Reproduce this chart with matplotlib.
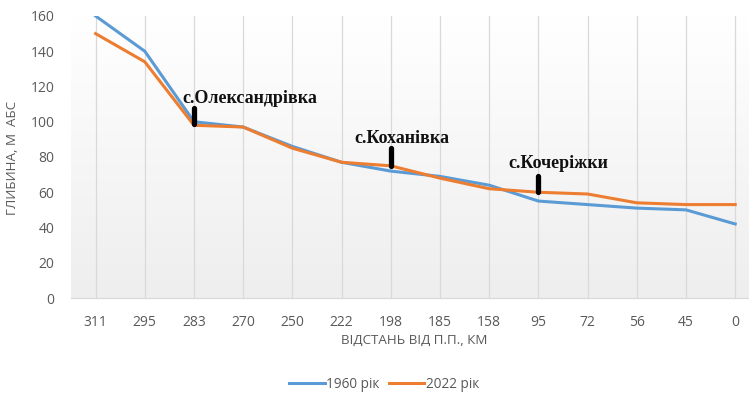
import numpy as np
import matplotlib
matplotlib.use("Agg")
import matplotlib.pyplot as plt
from matplotlib.colors import LinearSegmentedColormap

# Distance from the mouth, km (category axis)
distances = ["311", "295", "283", "270", "250", "222", "198", "185", "158", "95", "72", "56", "45", "0"]

# Riverbed depth, m abs.
depth_1960 = [160, 140, 100, 97, 86, 77, 72, 69, 64, 55, 53, 51, 50, 42]
depth_2022 = [150, 134, 98, 97, 85, 77, 75, 68, 62, 60, 59, 54, 53, 53]

# Settlements marked along the profile: name, category index, marker bottom/top
settlements = ["с.Олександрівка", "с.Коханівка", "с.Кочеріжки"]
settlement_idx = [2, 6, 9]
marker_low = [99, 75, 60]
marker_high = [108, 85, 69]

BLUE = "#5B9BD5"
ORANGE = "#ED7D31"
GREY_TEXT = "#595959"

plt.rcParams["font.family"] = ["Open Sans", "DejaVu Sans"]

W, H = 749, 396
fig = plt.figure(figsize=(W / 100, H / 100), dpi=100)

step = 49.2
left_px, bottom_px, top_px = 71, 298, 16
ax = fig.add_axes([left_px / W, (H - bottom_px) / H,
                   14 * step / W, (bottom_px - top_px) / H])

x = np.arange(len(distances))
ax.set_xlim(-0.5, len(distances) - 0.5)
ax.set_ylim(0, 160)

# soft vertical gradient behind the plot area
grad = LinearSegmentedColormap.from_list("bg", ["#eeeeee", "#ffffff"])
ax.imshow(np.linspace(0, 1, 256).reshape(-1, 1), cmap=grad, origin="lower",
          extent=[0, 1, 0, 1], transform=ax.transAxes, aspect="auto", zorder=0)

for xi in x:
    ax.axvline(xi, color="#d9d9d9", lw=0.9, zorder=1)

ax.plot(x, depth_1960, color=BLUE, lw=2.2, label="1960 рік", zorder=3,
        solid_joinstyle="round")
ax.plot(x, depth_2022, color=ORANGE, lw=2.2, label="2022 рік", zorder=3,
        solid_joinstyle="round")

# settlement markers and names
label_dx = [1.13, 0.22, 0.41]
label_y = [110.6, 88, 73.8]
for name, i, lo, hi, dx, ly in zip(settlements, settlement_idx, marker_low,
                                   marker_high, label_dx, label_y):
    ax.plot([i, i], [lo, hi], color="black", lw=3.8, solid_capstyle="round",
            zorder=4)
    ax.text(i + dx, ly, name, ha="center", va="baseline", fontsize=13,
            fontweight="bold", family="Liberation Serif", color="#111111",
            zorder=5)

ax.set_xticks(x)
ax.set_xticklabels(distances)
ax.set_yticks(np.arange(0, 161, 20))
ax.tick_params(axis="both", length=0, labelsize=10, colors=GREY_TEXT)
ax.tick_params(axis="x", pad=12)
ax.tick_params(axis="y", pad=12)

for side in ["left", "right", "top"]:
    ax.spines[side].set_visible(False)
ax.spines["bottom"].set_color("#d9d9d9")
ax.spines["bottom"].set_linewidth(0.9)

fig.text(414 / W, 1 - 340 / H, "ВІДСТАНЬ ВІД П.П., КМ", ha="center",
         va="center", fontsize=9.6, color=GREY_TEXT)
fig.text(12 / W, 1 - 158 / H, "ГЛИБИНА, М  АБС", ha="center", va="center",
         rotation=90, fontsize=9.6, color=GREY_TEXT)

fig.legend(loc="center", bbox_to_anchor=(384 / W, 1 - 384 / H), ncol=2,
           frameon=False, fontsize=9.8, labelcolor=GREY_TEXT, handlelength=2.6,
           handletextpad=0.1, columnspacing=0.7)

fig.savefig("out.png", dpi=100, facecolor="white")
